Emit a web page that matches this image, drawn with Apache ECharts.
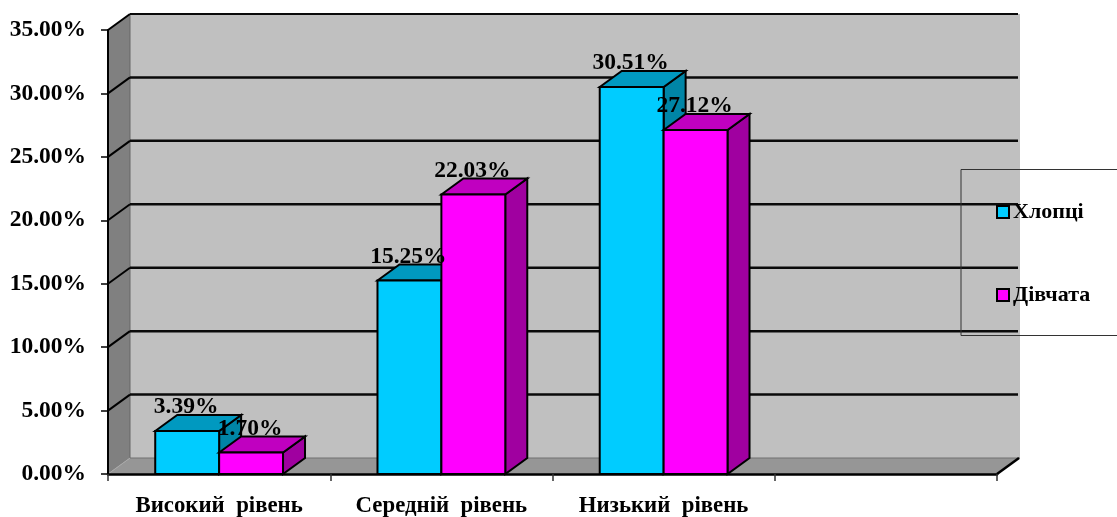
<!DOCTYPE html>
<html><head><meta charset="utf-8">
<style>html,body{margin:0;padding:0;background:#fff}#c{width:1117px;height:517px}</style>
<script src="https://cdn.jsdelivr.net/npm/echarts@6/dist/echarts.min.js"></script>
</head><body><div id="c"></div>
<script>
const categories = ['Високий  рівень', 'Середній  рівень', 'Низький  рівень', ''];
const boys = [3.39, 15.25, 30.51];
const girls = [1.70, 22.03, 27.12];
const ticks = [5, 10, 15, 20, 25, 30, 35];
const seriesNames = ['Хлопці', 'Дівчата'];

const DX = 22, DY = 16, BAR = 0.2875;
const FONT = 'bold 23.5px "Liberation Serif"';
const chart = echarts.init(document.getElementById('c'), null, {renderer: 'canvas'});

function poly(points, fill, stroke, lw) {
  return {type: 'polygon', shape: {points}, style: {fill, stroke: stroke || null, lineWidth: lw || 0}};
}
function line(p, q, stroke, lw) {
  return {type: 'line', shape: {x1: p[0], y1: p[1], x2: q[0], y2: q[1]}, style: {stroke, lineWidth: lw}};
}
function walls(params, api) {
  const w = api.size([1, 0])[0];
  const n = categories.length;
  const x0 = api.coord([0, 0])[0] - w / 2, x1 = api.coord([n - 1, 0])[0] + w / 2;
  const y0 = api.coord([0, 0])[1], yT = api.coord([0, 35])[1];
  return {type: 'group', children: [
    poly([[x0 + DX, yT - DY], [x1 + DX + 1, yT - DY], [x1 + DX + 1, y0 - DY], [x0 + DX, y0 - DY]], '#c0c0c0'),
    poly([[x0, yT], [x0 + DX, yT - DY], [x0 + DX, y0 - DY], [x0, y0]], '#808080'),
    poly([[x0, y0], [x0 + DX, y0 - DY], [x1 + DX + 1, y0 - DY], [x1, y0]], '#969696'),
    line([x0 + DX, y0 - DY], [x1 + DX + 1, y0 - DY], '#707070', 1),
    line([x0 + DX, yT - DY], [x0 + DX, y0 - DY], '#666666', 1),
    line([x0, y0], [x0 + DX, y0 - DY], '#a8a8a8', 1),
    line([x1, y0], [x1 + DX, y0 - DY], '#000', 2.5)
  ]};
}
function gridLines(params, api) {
  const w = api.size([1, 0])[0];
  const n = categories.length;
  const x0 = api.coord([0, 0])[0] - w / 2, x1 = api.coord([n - 1, 0])[0] + w / 2;
  const y = api.coord([0, api.value(1)])[1];
  const lw = api.value(1) === 35 ? 2 : 2.5;
  return {type: 'group', children: [
    line([x0, y], [x0 + DX, y - DY], '#000', 2),
    line([x0 + DX, y - DY], [x1 + DX - 1, y - DY], '#0a0a0a', lw)
  ]};
}
function barRenderer(index, front, top, side) {
  return function (params, api) {
    const c = api.coord([api.value(0), api.value(1)]);
    const base = api.coord([api.value(0), 0]);
    const bw = api.size([1, 0])[0] * BAR;
    const l = c[0] - bw + index * bw, r = l + bw, t = c[1], b = base[1];
    return {type: 'group', children: [
      poly([[r, t], [r + DX, t - DY], [r + DX, b - DY], [r, b]], side, '#000', 2),
      poly([[l, t], [l + DX, t - DY], [r + DX, t - DY], [r, t]], top, '#000', 2),
      poly([[l, t], [r, t], [r, b], [l, b]], front, '#000', 2)
    ]};
  };
}
function labelRenderer(index) {
  return function (params, api) {
    const c = api.coord([api.value(0), api.value(1)]);
    const bw = api.size([1, 0])[0] * BAR;
    return {type: 'text', style: {
      text: api.value(1).toFixed(2) + '%',
      x: c[0] - bw + index * bw + bw / 2 - 1, y: c[1] - 24,
      textAlign: 'center', textVerticalAlign: 'middle', font: FONT, fill: '#000'
    }};
  };
}
const toData = arr => arr.map((v, i) => [i, v]);

chart.setOption({
  animation: false,
  backgroundColor: '#fff',
  grid: {left: 108, right: 120, top: 30, bottom: 43, outerBoundsMode: 'none'},
  xAxis: {
    type: 'category', data: categories, z: 10,
    axisLine: {lineStyle: {color: '#000', width: 2.5}},
    axisTick: {show: true, length: 7, lineStyle: {color: '#333', width: 1.5}},
    axisLabel: {margin: 21, interval: 0, color: '#000', fontFamily: 'Liberation Serif', fontWeight: 'bold', fontSize: 22.8},
    splitLine: {show: false}
  },
  yAxis: {
    type: 'value', min: 0, max: 35, interval: 5, z: 10,
    axisLine: {show: true, lineStyle: {color: '#000', width: 2}},
    axisTick: {show: true, length: 7, lineStyle: {color: '#000', width: 1.5}},
    axisLabel: {margin: 22, color: '#000', fontFamily: 'Liberation Serif', fontWeight: 'bold', fontSize: 23.5, padding: [4, 0, 0, 0],
      formatter: v => v.toFixed(2) + '%'},
    splitLine: {show: false}
  },
  legend: {
    orient: 'vertical', left: 991, top: 196, itemGap: 61, itemWidth: 12, itemHeight: 12,
    icon: 'rect', selectedMode: false, data: seriesNames,
    itemStyle: {borderColor: '#000', borderWidth: 2},
    textStyle: {color: '#000', fontFamily: 'Liberation Serif', fontWeight: 'bold', fontSize: 22, padding: [0, 0, 0, -1]}
  },
  graphic: [{type: 'rect', z: 100, shape: {x: 961, y: 169.5, width: 170, height: 166}, style: {fill: null, stroke: '#333', lineWidth: 1}}],
  series: [
    {type: 'custom', z: 1, silent: true, clip: false, renderItem: walls, data: [[0, 0]], encode: {x: 0, y: 1}},
    {type: 'custom', z: 2, silent: true, clip: false, renderItem: gridLines, data: ticks.map(t => [0, t]), encode: {x: 0, y: 1}},
    {type: 'custom', z: 3, name: seriesNames[0], clip: false, itemStyle: {color: '#00ccff'}, renderItem: barRenderer(0, '#00ccff', '#0099c0', '#0085a6'), data: toData(boys), encode: {x: 0, y: 1}},
    {type: 'custom', z: 4, name: seriesNames[1], clip: false, itemStyle: {color: '#ff00ff'}, renderItem: barRenderer(1, '#ff00ff', '#c000c0', '#a000a0'), data: toData(girls), encode: {x: 0, y: 1}},
    {type: 'custom', z: 5, silent: true, clip: false, renderItem: labelRenderer(0), data: toData(boys), encode: {x: 0, y: 1}},
    {type: 'custom', z: 5, silent: true, clip: false, renderItem: labelRenderer(1), data: toData(girls), encode: {x: 0, y: 1}}
  ]
});
</script></body></html>
